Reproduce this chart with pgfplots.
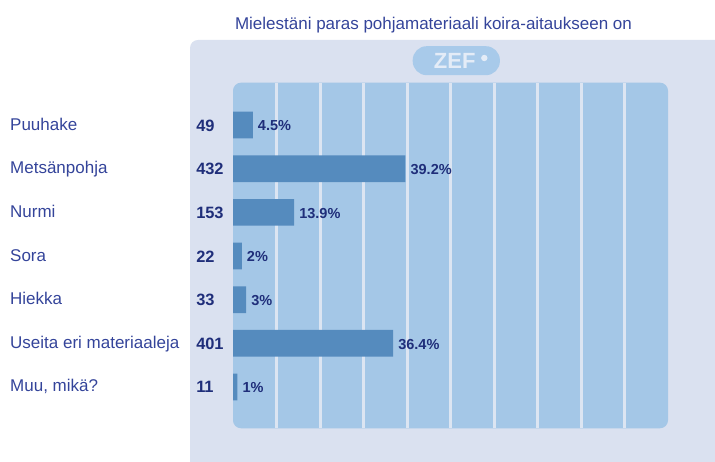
\documentclass[border=0pt]{standalone}
\usepackage{pgfplots}
\usepackage{pgfplotstable}
\pgfplotsset{compat=1.18}
\usepackage{fontspec}
\setmainfont{Liberation Sans}
\definecolor{panel}{HTML}{DAE1F0}
\definecolor{inner}{HTML}{A4C7E7}
\definecolor{barc}{HTML}{558BBE}
\definecolor{gridc}{HTML}{DCE5F2}
\definecolor{txt}{HTML}{34449A}
\definecolor{txtb}{HTML}{1F2E7A}
\definecolor{logo}{HTML}{A8CAEA}
\definecolor{logotext}{HTML}{E4ECF7}

\pgfplotstableread{
idx pct cnt cx
6 4.5 49 -8.4
5 39.2 432 -8.4
4 13.9 153 -8.4
3 2 22 -8.4
2 3 33 -8.4
1 36.4 401 -8.4
0 1 11 -8.4
}\datatable

\begin{document}
\begin{tikzpicture}[x=1pt,y=1pt]
\useasboundingbox (0,0) rectangle (715,462);
\fill[panel] (190,0) -- (190,414) arc[start angle=180,end angle=90,radius=8] -- (715,422) -- (715,0) -- cycle;
\fill[logo, rounded corners=14] (412.7,386.8) rectangle (499.9,415.8);
\node[text=logotext, font=\bfseries\fontsize{22}{22}\selectfont, anchor=base, inner sep=0pt] at (454.7,393.5) {ZEF};
\fill[logotext] (484.3,404) circle (3.2);
\node[text=txt, font=\fontsize{17}{17}\selectfont, anchor=base, inner sep=0pt] at (433.5,432) {Mielestäni paras pohjamateriaali koira-aitaukseen on};
\begin{axis}[
  at={(233pt,33.7pt)}, anchor=south west,
  width=435pt, height=345.6pt, scale only axis,
  xmin=0, xmax=98.9, ymin=-0.946, ymax=6.97,
  axis line style={draw=none},
  axis background/.style={fill=inner, rounded corners=8pt},
  xtick={9.89,19.78,29.67,39.56,49.45,59.34,69.23,79.12,89.01},
  xticklabels={},
  xmajorgrids,
  major grid style={gridc, line width=3pt},
  major tick length=0pt,
  ytick={0,1,2,3,4,5,6},
  yticklabels={{Muu, mikä?},{Useita eri materiaaleja},{Hiekka},{Sora},{Nurmi},{Metsänpohja},{Puuhake}},
  yticklabel style={anchor=west, inner sep=0pt, xshift=-223pt, text height=12pt, text depth=2pt, font=\fontsize{17}{17}\selectfont, text=txt},
  bar width=26.7pt,
  clip=false,
]
\addplot[xbar, fill=barc, draw=none, point meta=x,
  nodes near coords={\pgfmathprintnumber[fixed,precision=1,assume math mode=true]{\pgfplotspointmeta}\%},
  every node near coord/.append style={anchor=west, xshift=5pt, inner sep=0pt, font=\bfseries\fontsize{14.5}{14.5}\selectfont, text=txtb, text height=11.4pt, text depth=0pt}]
  table[x=pct, y=idx] {\datatable};
\addplot[only marks, mark=*, mark size=0pt, mark options={draw=none, fill=none}, point meta=explicit,
  nodes near coords={\pgfmathprintnumber[fixed,precision=0,assume math mode=true]{\pgfplotspointmeta}},
  every node near coord/.append style={anchor=west, inner sep=0pt, font=\bfseries\fontsize{16.4}{16.4}\selectfont, text=txtb, text height=12pt, text depth=0pt}]
  table[x=cx, y=idx, meta=cnt] {\datatable};
\end{axis}
\end{tikzpicture}
\end{document}
